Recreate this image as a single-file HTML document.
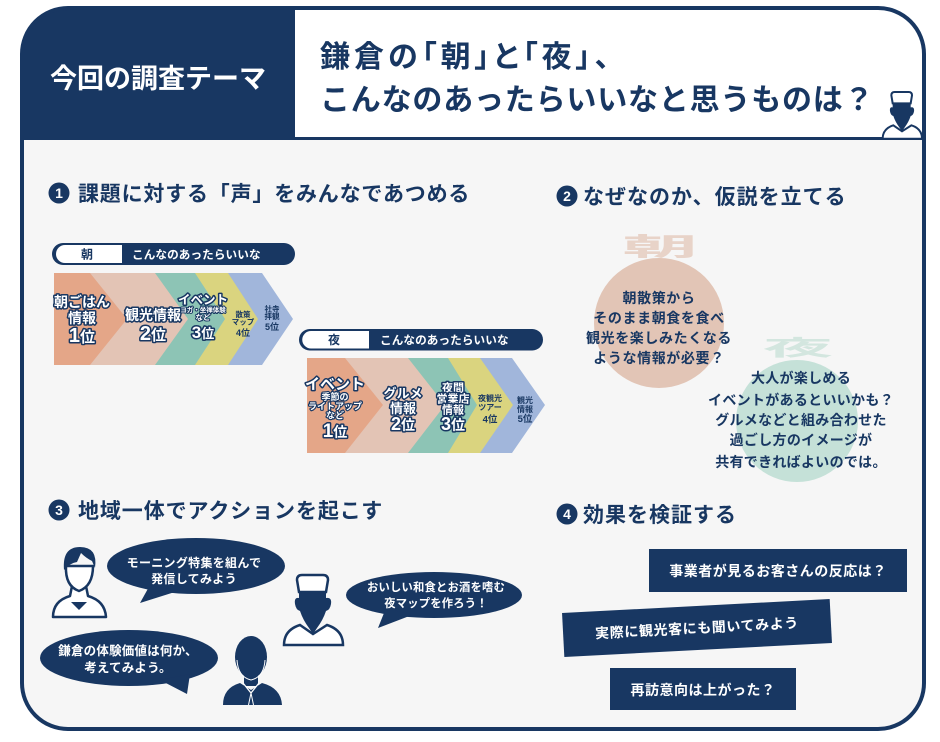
<!DOCTYPE html>
<html><head><meta charset="utf-8"><style>
html,body{margin:0;padding:0;background:#fff;}
svg{display:block;}
text{font-family:"Liberation Sans","Noto Sans CJK JP",sans-serif;font-weight:700;}
.o{fill:#fff;stroke:#183762;stroke-width:3;paint-order:stroke;stroke-linejoin:round;}
.n{fill:#183762;}
.w{fill:#fff;}
</style></head><body>
<svg width="940" height="742" viewBox="0 0 940 742" xmlns="http://www.w3.org/2000/svg">
<defs>
<clipPath id="fr"><rect x="22" y="8" width="902" height="721" rx="46" ry="46"/></clipPath>
</defs>
<!-- frame -->
<rect x="22" y="8" width="902" height="721" rx="46" ry="46" fill="#F6F6F6"/>
<g clip-path="url(#fr)">
<rect x="22" y="8" width="273" height="132" fill="#183762"/>
<rect x="295" y="8" width="629" height="129" fill="#fff"/>
<rect x="22" y="137" width="902" height="3" fill="#183762"/>
</g>
<rect x="22" y="8" width="902" height="721" rx="46" ry="46" fill="none" stroke="#183762" stroke-width="4"/>

<!-- header texts -->
<text x="50" y="88" font-size="27" class="w">今回の調査テーマ</text>
<text x="320" y="67" font-size="30" class="n" letter-spacing="4" style="font-feature-settings:'palt'">鎌倉の「朝」と「夜」、</text>
<text x="320" y="110" font-size="30" class="n" letter-spacing="0.8">こんなのあったらいいなと思うものは？</text>

<!-- header chef -->
<g transform="translate(882,92) scale(0.667) translate(-283,-575)">
<path d="M284,645 Q284,630 300,625 L313,634 L327,625 Q343,630 343,645 Z" fill="#fff" stroke="#183762" stroke-width="3"/>
<path d="M299,592 L326,592 L326,598 Q332,597 331,604 Q330,610 326,611 Q323,620 317,628 L313,634 L309,628 Q303,620 300,611 Q296,610 295,604 Q294,597 299,598 Z" fill="#183762"/>
<path d="M299,592 L297,580 Q297,575 302,575 L323,575 Q328,575 328,580 L326,592 Z" fill="#fff" stroke="#183762" stroke-width="3"/>
</g>

<!-- section headings -->
<circle cx="59" cy="193" r="10.5" fill="#183762"/><text x="59" y="198" font-size="14" class="w" text-anchor="middle">1</text>
<text x="78" y="201" font-size="21" class="n" letter-spacing="0.8">課題に対する「声」をみんなであつめる</text>
<circle cx="567" cy="196" r="10.5" fill="#183762"/><text x="567" y="201" font-size="14" class="w" text-anchor="middle">2</text>
<text x="583" y="204" font-size="21" class="n" letter-spacing="1">なぜなのか、仮説を立てる</text>
<circle cx="59" cy="510" r="10.5" fill="#183762"/><text x="59" y="515" font-size="14" class="w" text-anchor="middle">3</text>
<text x="78" y="518" font-size="21" class="n" letter-spacing="0.9">地域一体でアクションを起こす</text>
<circle cx="567" cy="514" r="10.5" fill="#183762"/><text x="567" y="519" font-size="14" class="w" text-anchor="middle">4</text>
<text x="583" y="522" font-size="21" class="n" letter-spacing="1">効果を検証する</text>

<!-- label bar 1 -->
<rect x="52" y="243" width="243" height="22" rx="11" fill="#183762"/>
<path d="M122,245 L65,245 A9,9 0 0 0 65,263 L122,263 Z" fill="#fff"/>
<text x="87" y="258.5" font-size="12" class="n" text-anchor="middle">朝</text>
<text x="132" y="258.5" font-size="11.6" class="w" letter-spacing="0.1">こんなのあったらいいな</text>

<!-- chevrons row 1 -->
<polygon points="228,273 262,273 293,319 262,365 228,365" fill="#A1B6DB"/>
<polygon points="195,273 228,273 258,319 228,365 195,365" fill="#DAD47F"/>
<polygon points="155,273 195,273 225,319 195,365 155,365" fill="#8DC4B5"/>
<polygon points="90,273 155,273 188,319 155,365 90,365" fill="#E3C4B5"/>
<polygon points="54,273 90,273 127,319 90,365 54,365" fill="#E4A688"/>
<g text-anchor="middle">
<text x="82" y="307" font-size="14" class="o">朝ごはん</text>
<text x="82" y="323" font-size="14" class="o">情報</text>
<text x="82" y="342" class="o"><tspan font-size="20">1</tspan><tspan font-size="15">位</tspan></text>
<text x="153" y="320" font-size="14" class="o">観光情報</text>
<text x="153" y="340" class="o"><tspan font-size="20">2</tspan><tspan font-size="15">位</tspan></text>
<text x="203" y="304" font-size="12.5" class="o">イベント</text>
<text x="203" y="312" font-size="6.5" class="o" style="stroke-width:2">ヨガ・坐禅体験</text>
<text x="203" y="320" font-size="7.5" class="o" style="stroke-width:2">など</text>
<text x="203" y="338" class="o"><tspan font-size="17">3</tspan><tspan font-size="13">位</tspan></text>
<text x="243" y="317" font-size="7.5" class="n">散策</text>
<text x="243" y="324.5" font-size="7.5" class="n">マップ</text>
<text x="243" y="336" font-size="9" class="n">4位</text>
<text x="272" y="311.5" font-size="7.5" class="n">社寺</text>
<text x="272" y="319" font-size="7.5" class="n">拝観</text>
<text x="272" y="330" font-size="9" class="n">5位</text>
</g>

<!-- label bar 2 -->
<rect x="299" y="329" width="244" height="21.5" rx="10.75" fill="#183762"/>
<path d="M369,331 L311,331 A8.75,8.75 0 0 0 311,348.5 L369,348.5 Z" fill="#fff"/>
<text x="334" y="344" font-size="12" class="n" text-anchor="middle">夜</text>
<text x="380" y="344" font-size="11.6" class="w" letter-spacing="0.1">こんなのあったらいいな</text>

<!-- chevrons row 2 -->
<polygon points="480,358 512,358 545,405 512,453 480,453" fill="#A1B6DB"/>
<polygon points="448,358 480,358 513,405 480,453 448,453" fill="#DAD47F"/>
<polygon points="408,358 448,358 477,405 448,453 408,453" fill="#8DC4B5"/>
<polygon points="345,358 408,358 445,405 408,453 345,453" fill="#E3C4B5"/>
<polygon points="307,358 345,358 383,405 345,453 307,453" fill="#E4A688"/>
<g text-anchor="middle">
<text x="335" y="389" font-size="15" class="o">イベント</text>
<text x="335" y="400" font-size="9" class="o" style="stroke-width:2.4">季節の</text>
<text x="335" y="409.5" font-size="9" class="o" style="stroke-width:2.4">ライトアップ</text>
<text x="335" y="418.5" font-size="9" class="o" style="stroke-width:2.4">など</text>
<text x="335" y="437" class="o"><tspan font-size="19">1</tspan><tspan font-size="14">位</tspan></text>
<text x="403" y="398" font-size="13" class="o">グルメ</text>
<text x="403" y="413" font-size="13" class="o">情報</text>
<text x="403" y="430" class="o"><tspan font-size="18">2</tspan><tspan font-size="14">位</tspan></text>
<text x="453" y="391.5" font-size="11" class="o">夜間</text>
<text x="453" y="402.5" font-size="11" class="o">営業店</text>
<text x="453" y="413.5" font-size="11" class="o">情報</text>
<text x="453" y="430" class="o"><tspan font-size="18">3</tspan><tspan font-size="14">位</tspan></text>
<text x="490" y="401" font-size="8" class="n">夜観光</text>
<text x="490" y="410" font-size="8" class="n">ツアー</text>
<text x="490" y="422.5" font-size="9.5" class="n">4位</text>
<text x="525" y="403" font-size="8" class="n">観光</text>
<text x="525" y="412" font-size="8" class="n">情報</text>
<text x="525" y="422" font-size="9.5" class="n">5位</text>
</g>

<!-- hypothesis circles -->
<text transform="translate(660,255.5) scale(2.1,0.7)" font-size="36" fill="#E8D3C8" text-anchor="middle">朝</text>
<circle cx="659" cy="323" r="65" fill="#E2C5B6"/>
<text transform="translate(798,355.5) scale(1.95,0.6)" font-size="36" fill="#D3E6DF" text-anchor="middle">夜</text>
<circle cx="797" cy="421" r="61" fill="#C5E1D8"/>
<g text-anchor="middle" font-size="14" class="n" letter-spacing="0.6">
<text x="659" y="303">朝散策から</text>
<text x="659" y="323">そのまま朝食を食べ</text>
<text x="659" y="343">観光を楽しみたくなる</text>
<text x="659" y="363">ような情報が必要？</text>
</g>
<g text-anchor="middle" font-size="14" class="n" letter-spacing="0.3">
<text x="801" y="383">大人が楽しめる</text>
<text x="801" y="405">イベントがあるといいかも？</text>
<text x="801" y="425">グルメなどと組み合わせた</text>
<text x="801" y="445">過ごし方のイメージが</text>
<text x="801" y="467">共有できればよいのでは。</text>
</g>

<!-- section 3: bubbles -->
<ellipse cx="196" cy="566" rx="89" ry="28" fill="#183762"/>
<polygon points="150,585 140,603 178,591" fill="#183762"/>
<g text-anchor="middle" font-size="12" class="w" letter-spacing="0.3">
<text x="194" y="567">モーニング特集を組んで</text>
<text x="194" y="583">発信してみよう</text>
</g>
<ellipse cx="434" cy="595" rx="88" ry="23" fill="#183762"/>
<polygon points="386,608 378,628 412,615" fill="#183762"/>
<g text-anchor="middle" font-size="11.3" class="w" letter-spacing="0.2">
<text x="436" y="591">おいしい和食とお酒を嗜む</text>
<text x="436" y="607">夜マップを作ろう！</text>
</g>
<ellipse cx="129" cy="658" rx="89" ry="28" fill="#183762"/>
<polygon points="160,680 187,694 190,674" fill="#183762"/>
<g text-anchor="middle" font-size="12.5" class="w" letter-spacing="0.2">
<text x="128" y="655">鎌倉の体験価値は何か、</text>
<text x="128" y="672">考えてみよう。</text>
</g>

<!-- person 1 outline -->
<path d="M53,617 Q53,601 70,596 L72,586 L86,586 L88,596 Q105,601 106,617 Z" fill="#fff" stroke="#183762" stroke-width="2.5" stroke-linejoin="round"/>
<polygon points="71,602 87,602 79,610" fill="#183762"/>
<path d="M66,566 Q65,586 79,591 Q93,586 93,566 Z" fill="#fff" stroke="#183762" stroke-width="2.5"/>
<path d="M64,570 Q62,547 80,547 Q98,547 95,568 L92,561 Q86,558 81,553 L77,562 Q70,563 64,570 Z" fill="#183762"/>

<!-- chef -->
<path d="M284,645 Q284,630 300,625 L313,634 L327,625 Q343,630 343,645 Z" fill="#fff" stroke="#183762" stroke-width="2.5"/>
<path d="M299,592 L326,592 L326,598 Q332,597 331,604 Q330,610 326,611 Q323,620 317,628 L313,634 L309,628 Q303,620 300,611 Q296,610 295,604 Q294,597 299,598 Z" fill="#183762"/>
<path d="M299,592 L297,580 Q297,575 302,575 L323,575 Q328,575 328,580 L326,592 Z" fill="#fff" stroke="#183762" stroke-width="2.5"/>

<!-- businessman -->
<path d="M223,705 Q223,688 240,683 L251,690 L262,683 Q281,688 282,705 Z" fill="#183762"/>
<rect x="244" y="672" width="14" height="14" fill="#183762"/>
<ellipse cx="251" cy="657" rx="16" ry="21" fill="#183762"/>
<path d="M237,660 Q238,677 251,680 Q264,677 265,660" fill="none" stroke="#fff" stroke-width="1"/>
<path d="M243,683 L251,693 L259,683" fill="none" stroke="#fff" stroke-width="1.3"/>
<path d="M251,693 L248.5,705 M251,693 L253.5,705" fill="none" stroke="#fff" stroke-width="1"/>

<!-- section 4 boxes -->
<rect x="649" y="549" width="258" height="43" fill="#183762"/>
<text x="778" y="576" font-size="14" class="w" text-anchor="middle" letter-spacing="0.5">事業者が見るお客さんの反応は？</text>
<g transform="translate(697,628) rotate(-3)">
<rect x="-134" y="-22" width="268" height="44" fill="#183762"/>
<text x="0" y="5" font-size="14" class="w" text-anchor="middle" letter-spacing="0.6">実際に観光客にも聞いてみよう</text>
</g>
<rect x="610" y="668" width="186" height="42" fill="#183762"/>
<text x="703" y="695" font-size="14" class="w" text-anchor="middle" letter-spacing="0.5">再訪意向は上がった？</text>
</svg>
</body></html>
